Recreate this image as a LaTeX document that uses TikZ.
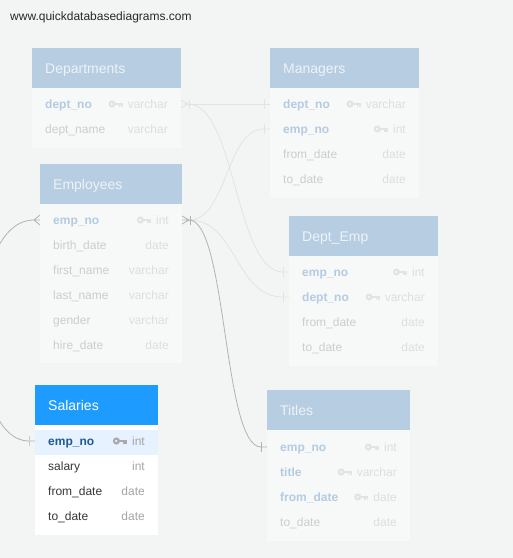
\documentclass[tikz,border=0pt]{standalone}
\usepackage{fontspec}
\setmainfont{Liberation Sans}
\usetikzlibrary{calc}
\definecolor{bgc}{RGB}{243,245,245}
\definecolor{fhdr}{RGB}{183,205,225}
\definecolor{fhdrtxt}{RGB}{238,243,248}
\definecolor{fbody}{RGB}{247,248,248}
\definecolor{fkey}{RGB}{180,203,226}
\definecolor{fname}{RGB}{204,205,206}
\definecolor{ftype}{RGB}{221,222,223}
\definecolor{ficon}{RGB}{226,227,228}
\definecolor{fline}{RGB}{226,227,227}
\definecolor{dline}{RGB}{178,178,178}
\definecolor{shdr}{RGB}{30,155,255}
\definecolor{shl}{RGB}{230,242,255}
\definecolor{skey}{RGB}{28,90,150}
\definecolor{sname}{RGB}{55,55,55}
\definecolor{stype}{RGB}{165,165,165}
\definecolor{sicon}{RGB}{170,170,170}
\definecolor{urlc}{RGB}{40,40,40}
\tikzset{
  hdrbox/.style={anchor=north west, inner sep=0, outer sep=0, minimum height=40pt},
  bodybox/.style={anchor=north west, inner sep=0, outer sep=0},
  ttl/.style={anchor=base west, inner sep=0, font=\fontsize{14}{16}\selectfont},
  fld/.style={anchor=base west, inner sep=0, font=\fontsize{12}{14}\selectfont},
  kfld/.style={anchor=base west, inner sep=0, font=\fontsize{12}{14}\selectfont\bfseries},
  typ/.style={anchor=base east, inner sep=0, font=\fontsize{12}{14}\selectfont},
  fl/.style={draw=fline, line width=0.8pt},
  dl/.style={draw=dline, line width=0.8pt},
  keyicon/.pic={
    \fill[even odd rule] (-10.5,0) circle (3.6) (-10.8,0) circle (1.4);
    \fill (-7.5,-1.4) rectangle (0,1.4);
    \fill (-4,1.4) rectangle (-2.4,3.4);
    \fill (-1.6,1.4) rectangle (0,3);
  },
  crowright/.pic={
    \draw (0,-4) -- (7,0) (0,0) -- (7,0) (0,4) -- (7,0);
    \draw (8,-4.5) -- (8,4.5);
  },
  crowleft/.pic={
    \draw (0,-5) -- (-6,0) (0,0) -- (-6,0) (0,5) -- (-6,0);
  },
  onebar/.pic={
    \draw (0,-5) -- (0,5);
  }
}
% #1 name, #2 x left, #3 x right, #4 y centre, #5 field, #6 type, #7 field colour, #8 type colour
\newcommand\erow[8]{%
  \node[fld, text=#7] (#1) at (#2,#4+4.5) {#5};
  \node[typ, text=#8] (#1-t) at (#3,#4+4.5) {#6};
}
% key row: bold field name and key icon
\newcommand\krow[9]{%
  \node[kfld, text=#7] (#1) at (#2,#4+4.5) {#5};
  \node[typ, text=#8] (#1-t) at (#3,#4+4.5) {#6};
  \pic[fill=#9] at ($(#1-t.base west)+(-5,-4.5)$) {keyicon};
}
\begin{document}
\begin{tikzpicture}[x=1pt,y=-1pt]
\useasboundingbox (0,0) rectangle (513,558);
\fill[bgc] (0,0) rectangle (513,558);
\clip (0,0) rectangle (513,558);

\node[anchor=base west, inner sep=0, font=\fontsize{12}{14}\selectfont, text=urlc] (url) at (10,20) {www.quickdatabasediagrams.com};

% ---------- Departments
\node[bodybox, fill=fbody, minimum width=149pt, minimum height=60pt] (depb) at (32,88) {};
\node[hdrbox, fill=fhdr, minimum width=149pt] (deph) at (32,48) {};
\node[ttl, text=fhdrtxt] (dept) at (45,73.5) {Departments};
\krow{dep1}{45}{168}{104}{dept\_no}{varchar}{fkey}{ftype}{ficon}
\erow{dep2}{45}{168}{129}{dept\_name}{varchar}{fname}{ftype}

% ---------- Managers
\node[bodybox, fill=fbody, minimum width=149pt, minimum height=110pt] (mgrb) at (270,88) {};
\node[hdrbox, fill=fhdr, minimum width=149pt] (mgrh) at (270,48) {};
\node[ttl, text=fhdrtxt] (mgrt) at (283,73.5) {Managers};
\krow{mgr1}{283}{406}{104}{dept\_no}{varchar}{fkey}{ftype}{ficon}
\krow{mgr2}{283}{406}{129}{emp\_no}{int}{fkey}{ftype}{ficon}
\erow{mgr3}{283}{406}{154}{from\_date}{date}{fname}{ftype}
\erow{mgr4}{283}{406}{179}{to\_date}{date}{fname}{ftype}

% ---------- Employees
\node[bodybox, fill=fbody, minimum width=142pt, minimum height=159pt] (empb) at (40,204) {};
\node[hdrbox, fill=fhdr, minimum width=142pt] (emph) at (40,164) {};
\node[ttl, text=fhdrtxt] (empt) at (53,189.5) {Employees};
\krow{emp1}{53}{169}{220}{emp\_no}{int}{fkey}{ftype}{ficon}
\erow{emp2}{53}{169}{245}{birth\_date}{date}{fname}{ftype}
\erow{emp3}{53}{169}{270}{first\_name}{varchar}{fname}{ftype}
\erow{emp4}{53}{169}{295}{last\_name}{varchar}{fname}{ftype}
\erow{emp5}{53}{169}{320}{gender}{varchar}{fname}{ftype}
\erow{emp6}{53}{169}{345}{hire\_date}{date}{fname}{ftype}

% ---------- Dept_Emp
\node[bodybox, fill=fbody, minimum width=149pt, minimum height=110pt] (deb) at (289,256) {};
\node[hdrbox, fill=fhdr, minimum width=149pt] (deh) at (289,216) {};
\node[ttl, text=fhdrtxt] (det) at (302,241.5) {Dept\_Emp};
\krow{de1}{302}{425}{272}{emp\_no}{int}{fkey}{ftype}{ficon}
\krow{de2}{302}{425}{297}{dept\_no}{varchar}{fkey}{ftype}{ficon}
\erow{de3}{302}{425}{322}{from\_date}{date}{fname}{ftype}
\erow{de4}{302}{425}{347}{to\_date}{date}{fname}{ftype}

% ---------- Salaries
\node[bodybox, fill=white, minimum width=123pt, minimum height=110pt] (salb) at (35,425) {};
\node[bodybox, fill=shl, minimum width=123pt, minimum height=25pt] (salhl) at (35,430) {};
\node[hdrbox, fill=shdr, minimum width=123pt] (salh) at (35,385) {};
\node[ttl, text=white] (salt) at (48,410.5) {Salaries};
\krow{sal1}{48}{145}{441}{emp\_no}{int}{skey}{stype}{sicon}
\erow{sal2}{48}{145}{466}{salary}{int}{sname}{stype}
\erow{sal3}{48}{145}{491}{from\_date}{date}{sname}{stype}
\erow{sal4}{48}{145}{516}{to\_date}{date}{sname}{stype}

% ---------- Titles
\node[bodybox, fill=fbody, minimum width=143pt, minimum height=111pt] (titb) at (267,430) {};
\node[hdrbox, fill=fhdr, minimum width=143pt] (tith) at (267,390) {};
\node[ttl, text=fhdrtxt] (titt) at (280,415.5) {Titles};
\krow{tit1}{280}{397}{447}{emp\_no}{int}{fkey}{ftype}{ficon}
\krow{tit2}{280}{397}{472}{title}{varchar}{fkey}{ftype}{ficon}
\krow{tit3}{280}{397}{497}{from\_date}{date}{fkey}{ftype}{ficon}
\erow{tit4}{280}{397}{522}{to\_date}{date}{fname}{ftype}

% ---------- connector end points
\coordinate (depR) at (181,104);
\coordinate (depA) at (188,104);
\coordinate (empR) at (182,220);
\coordinate (empA) at (189,220);
\coordinate (empL) at (40,220);
\coordinate (empLA) at (34,220);
\coordinate (mgrL1) at (270,104);
\coordinate (mgrB1) at (264,104);
\coordinate (mgrL2) at (270,129);
\coordinate (mgrB2) at (264,129);
\coordinate (deL1) at (289,272);
\coordinate (deB1) at (283,272);
\coordinate (deL2) at (289,297);
\coordinate (deB2) at (283,297);
\coordinate (titL) at (267,447);
\coordinate (titB) at (261,447);
\coordinate (salL) at (35,441);
\coordinate (salB) at (29,441);

% faded connectors
\draw[fl] (depA) -- (mgrL1);
\draw[fl] (depA) .. controls +(48,0) and +(-48,0) .. (deB1) -- (deL1);
\draw[fl] (empA) .. controls +(38,0) and +(-38,0) .. (mgrB2) -- (mgrL2);
\draw[fl] (empA) .. controls +(48,0) and +(-48,0) .. (deB2) -- (deL2);
\pic[draw=fline, line width=0.8pt] at (depR) {crowright};
\pic[draw=fline, line width=0.8pt] at (mgrB1) {onebar};
\pic[draw=fline, line width=0.8pt] at (mgrB2) {onebar};
\pic[draw=fline, line width=0.8pt] at (deB1) {onebar};
\pic[draw=fline, line width=0.8pt] at (deB2) {onebar};

% darker connectors
\draw[dl] (empA) .. controls +(38,0) and +(-38,0) .. (titB) -- (titL);
\draw[dl] (empLA) .. controls +(-70,0) and +(-65,0) .. (salB) -- (salL);
\pic[draw=dline, line width=0.8pt] at (empR) {crowright};
\pic[draw=dline, line width=0.8pt] at (empL) {crowleft};
\pic[draw=dline, line width=0.8pt] at (titB) {onebar};
\pic[draw=dline!70!white, line width=0.8pt] at (salB) {onebar};
\end{tikzpicture}
\end{document}
